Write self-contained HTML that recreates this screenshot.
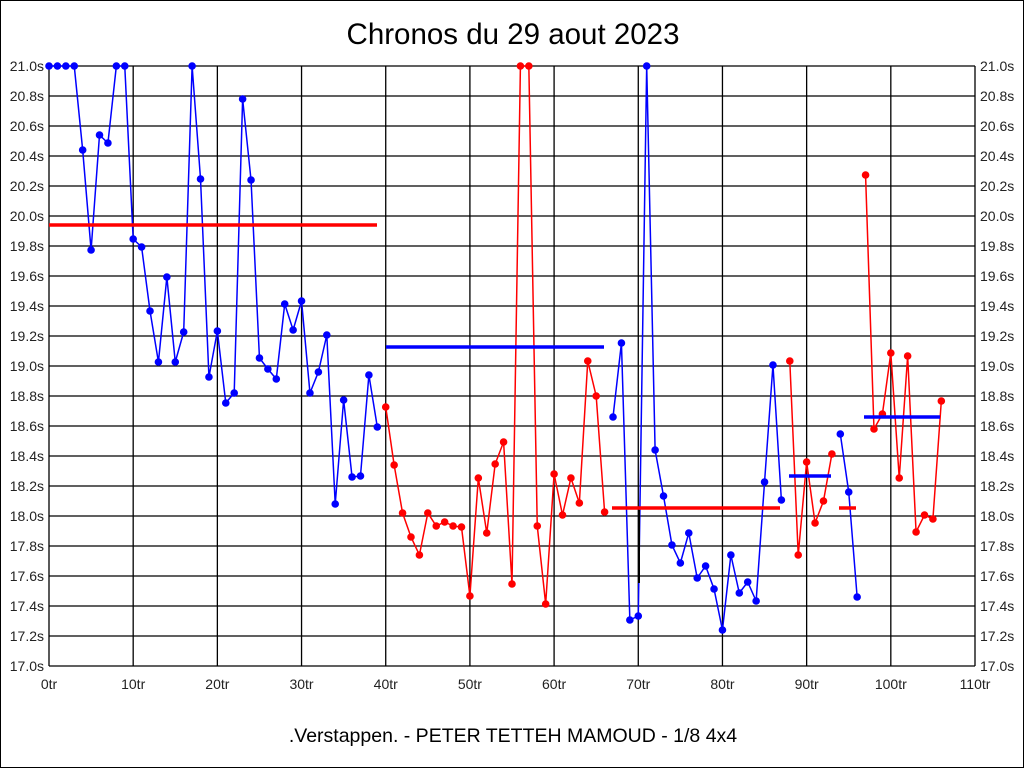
<!DOCTYPE html>
<html><head><meta charset="utf-8"><style>
html,body{margin:0;padding:0;background:#fff;}
svg{display:block;font-family:"Liberation Sans",sans-serif;}
</style></head><body>
<svg id="s" width="1024" height="768" xmlns="http://www.w3.org/2000/svg">
<rect x="0.5" y="0.5" width="1023" height="767" fill="#fff" stroke="#000"/>
<text x="513" y="44" font-size="29.5" text-anchor="middle">Chronos du 29 aout 2023</text>
<text x="513" y="742" font-size="19.5" text-anchor="middle">.Verstappen. - PETER TETTEH MAMOUD - 1/8 4x4</text>
<g id="g"></g>
</svg>
<script>
var NS="http://www.w3.org/2000/svg",g=document.getElementById("g");
function el(t,a,txt){var e=document.createElementNS(NS,t);for(var k in a)e.setAttribute(k,a[k]);if(txt!=null)e.textContent=txt;g.appendChild(e);return e;}
var X0=49,X1=975,Y0=66,Y1=666;
function xp(i){return X0+i*(X1-X0)/110;}
for(var k=0;k<=20;k++){var y=Y0+k*30;el("line",{x1:X0,x2:X1,y1:y,y2:y,stroke:"#000","stroke-width":1.3});
var v=(21-k*0.2).toFixed(1)+"s";
el("text",{x:44,y:y+5,"font-size":14,"text-anchor":"end",fill:"#222"},v);
el("text",{x:980,y:y+5,"font-size":14,fill:"#222"},v);}
for(var k=0;k<=11;k++){var x=xp(k*10);el("line",{x1:x,x2:x,y1:Y0,y2:Y1,stroke:"#000","stroke-width":1.3});
el("text",{x:x,y:689,"font-size":14,"text-anchor":"middle",fill:"#222"},(k*10)+"tr");}
var ys=[66,66,66,66,150,250,135,143,66,66,239,247,311,362,277,362,332,66,179,377,331,403,393,99,180,358,369,379,304,330,301,393,372,335,504,400,477,476,375,427,
407,465,513,537,555,513,526,522,526,527,596,478,533,464,442,584,66,66,526,604,474,515,478,503,361,396,512,
417,343,620,616,66,450,496,545,563,533,578,566,589,630,555,593,582,601,482,365,500,
361,555,462,523,501,454,
434,492,597,
175,429,414,353,478,356,532,515,519,401];
var segs=[[0,39,"#00f"],[40,66,"#f00"],[67,87,"#00f"],[88,93,"#f00"],[94,96,"#00f"],[97,106,"#f00"]];
segs.forEach(function(s){var p=[];for(var i=s[0];i<=s[1];i++)p.push(xp(i)+","+ys[i]);
el("polyline",{points:p.join(" "),fill:"none",stroke:s[2],"stroke-width":1.5});
for(var i=s[0];i<=s[1];i++)el("circle",{cx:xp(i),cy:ys[i],r:3.8,fill:s[2]});});
el("line",{x1:639,x2:639,y1:510,y2:583,stroke:"#000","stroke-width":2});
var means=[[49,377,225,"#f00"],[386,604,347,"#00f"],[612,780,508,"#f00"],[789,831,476,"#00f"],[839,856,508,"#f00"],[864,940,417,"#00f"]];
means.forEach(function(m){el("line",{x1:m[0],x2:m[1],y1:m[2],y2:m[2],stroke:m[3],"stroke-width":3.5});});
</script>
</body></html>
